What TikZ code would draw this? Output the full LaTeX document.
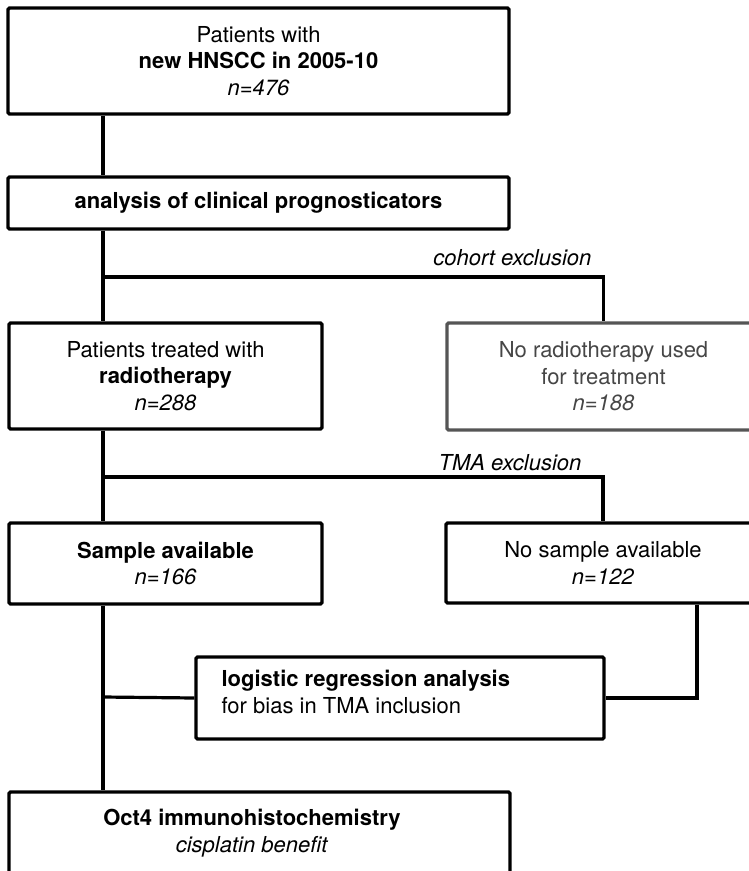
\documentclass[tikz,border=0pt]{standalone}
\usepackage{fontspec}
\setmainfont{TeX Gyre Heros}
\definecolor{exgray}{RGB}{85,85,85}
\definecolor{extext}{RGB}{70,70,70}
\begin{document}
\begin{tikzpicture}[x=1pt,y=-1pt,line width=3.2pt,
  box/.style={draw,rectangle,rounded corners=1.5pt,inner sep=0pt,line width=3.2pt,
    font=\fontsize{22}{26.5}\selectfont,align=center},
  graybox/.style={box,draw=exgray,text=extext},
  lbl/.style={inner sep=0pt,font=\fontsize{22}{26.5}\selectfont\itshape},
  link/.style={draw,line width=3.2pt}]
\useasboundingbox (0,0) rectangle (749,871);
\clip (0,0) rectangle (749,871);
\fill[white] (0,0) rectangle (749,871);

\node[box,minimum width=501,minimum height=106] (b1) at (258.5,61)
  {Patients with\\\textbf{new HNSCC in 2005-10}\\\textit{n=476}};
\node[box,minimum width=501,minimum height=52] (b2) at (258.5,203)
  {\textbf{analysis of clinical prognosticators}};
\node[box,minimum width=313,minimum height=106] (b3) at (165.5,376)
  {Patients treated with\\\textbf{radiotherapy}\\\textit{n=288}};
\node[graybox,minimum width=313,minimum height=107] (b4) at (603.5,376.5)
  {No radiotherapy used\\for treatment\\\textit{n=188}};
\node[box,minimum width=313,minimum height=81] (b5) at (165.5,563.5)
  {\textbf{Sample available}\\\textit{n=166}};
\node[box,minimum width=314,minimum height=80] (b6) at (603,563)
  {No sample available\\\textit{n=122}};
\node[box,minimum width=408,minimum height=82] (b7) at (400,698) {};
\node[inner sep=0pt,anchor=west,align=left,font=\fontsize{22}{26.5}\selectfont] (t7) at (220,692)
  {\textbf{logistic regression analysis}\\for bias in TMA inclusion};
\node[box,minimum width=501,minimum height=82] (b8) at (259.5,833) {};
\node[inner sep=0pt,align=center,font=\fontsize{22}{26.5}\selectfont] (t8) at (252,833)
  {\textbf{Oct4 immunohistochemistry}\\\textit{cisplatin benefit}};

\node[lbl,anchor=base east] (l1) at (593,265) {cohort exclusion};
\node[lbl,anchor=base west] (l2) at (437,470) {TMA exclusion};

\coordinate (trunk) at (103,0);
\coordinate (rt) at (697,0);
\coordinate (j1) at (103,277);
\coordinate (j2) at (103,477);
\coordinate (j3) at (103,697);

\draw[link] (b1.south -| trunk) -- (b2.north -| trunk);
\draw[link] (b2.south -| trunk) -- (b3.north -| trunk);
\draw[link] (j1) -| (b4.north);
\draw[link] (b3.south -| trunk) -- (b5.north -| trunk);
\draw[link] (j2) -| (b6.north);
\draw[link] (b5.south -| trunk) -- (b8.north -| trunk);
\draw[link] (j3) -- (b7.west);
\draw[link] (b6.south -| rt) |- (b7.east);
\end{tikzpicture}
\end{document}
